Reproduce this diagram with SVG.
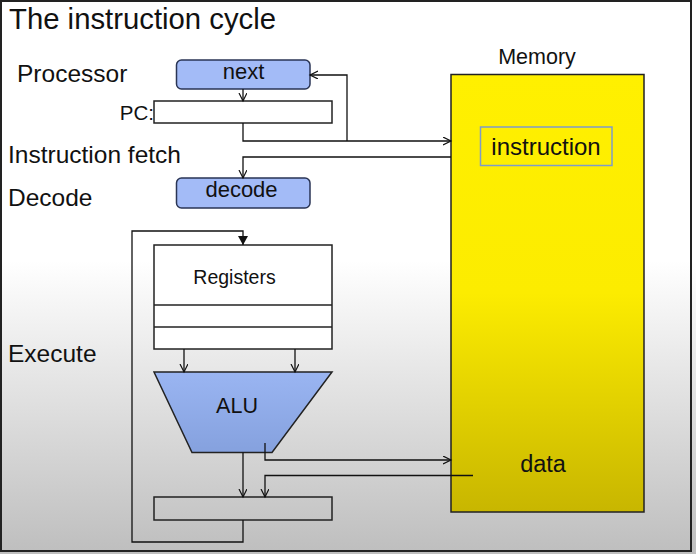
<svg xmlns="http://www.w3.org/2000/svg" width="696" height="554" viewBox="0 0 696 554">
<defs>
<linearGradient id="bg" x1="0" y1="0" x2="0" y2="1">
<stop offset="0" stop-color="#ffffff"/><stop offset="0.47" stop-color="#ffffff"/><stop offset="1" stop-color="#bebebe"/>
</linearGradient>
<linearGradient id="yel" x1="0" y1="0" x2="0" y2="1">
<stop offset="0" stop-color="#fff000"/><stop offset="0.5" stop-color="#fcec00"/><stop offset="1" stop-color="#c8b600"/>
</linearGradient>
<linearGradient id="alu" x1="0" y1="0" x2="0" y2="1">
<stop offset="0" stop-color="#9ab5f2"/><stop offset="1" stop-color="#85a1de"/>
</linearGradient>
<marker id="open" markerWidth="10" markerHeight="10" refX="8" refY="4" orient="auto" markerUnits="userSpaceOnUse">
<path d="M0,0 L8,4 L0,8" fill="none" stroke="#111" stroke-width="1.2"/>
</marker>
<marker id="solid" markerWidth="12" markerHeight="12" refX="9" refY="5" orient="auto" markerUnits="userSpaceOnUse">
<path d="M0,0 L9,5 L0,10 Z" fill="#111"/>
</marker>
</defs>
<style>
text{font-family:"Liberation Sans",Arial,sans-serif;fill:#111}
.lbl{font-size:24.5px}
.box{fill:#ffffff;stroke:#222;stroke-width:1.5}
.rbox{fill:#a3bbf7;stroke:#2a3555;stroke-width:1.5}
.c{fill:none;stroke:#111;stroke-width:1.3}
.a{marker-end:url(#open)}
</style>
<rect x="0" y="0" width="696" height="554" fill="url(#bg)"/>
<rect x="1" y="1" width="690" height="550" fill="none" stroke="#222" stroke-width="2"/>
<text x="9" y="29" font-size="29.3">The instruction cycle</text>
<text class="lbl" x="17" y="82">Processor</text>
<text class="lbl" x="8" y="163">Instruction fetch</text>
<text class="lbl" x="8" y="206">Decode</text>
<text class="lbl" x="8" y="362">Execute</text>

<g id="memory">
<rect x="451" y="74.5" width="193" height="437.5" fill="url(#yel)" stroke="#222" stroke-width="1.5"/>
<text x="537" y="64" font-size="21.5" text-anchor="middle">Memory</text>
<text x="543" y="472" font-size="23.5" text-anchor="middle">data</text>
</g>
<g id="instruction">
<rect x="480.5" y="127" width="131.5" height="38.5" fill="none" stroke="#7f9cc8" stroke-width="1.5"/>
<text x="546" y="154.5" font-size="24" text-anchor="middle">instruction</text>
</g>
<g id="next">
<rect class="rbox" x="176.5" y="60" width="133.5" height="29" rx="5"/>
<text x="243.5" y="78.5" font-size="22" text-anchor="middle">next</text>
</g>
<g id="pc">
<rect class="box" x="154" y="101" width="178" height="22"/>
<text x="154" y="119.5" font-size="20.5" text-anchor="end">PC:</text>
</g>
<g id="decode">
<rect class="rbox" x="176.5" y="178" width="133.5" height="30" rx="5"/>
<text x="241.5" y="196.5" font-size="22" text-anchor="middle">decode</text>
</g>
<g id="registers">
<rect class="box" x="154" y="245" width="178" height="104"/>
<line x1="154" y1="305" x2="332" y2="305" stroke="#222" stroke-width="1.5"/>
<line x1="154" y1="327" x2="332" y2="327" stroke="#222" stroke-width="1.5"/>
<text x="234.5" y="283.5" font-size="19.5" text-anchor="middle">Registers</text>
</g>
<g id="alu">
<path d="M154,372 L332,372 L272,452.5 L192,452.5 Z" fill="url(#alu)" stroke="#222" stroke-width="1.5"/>
<text x="237" y="412.5" font-size="21.5" text-anchor="middle">ALU</text>
</g>
<g id="result">
<rect x="154" y="497" width="178" height="23" fill="none" stroke="#222" stroke-width="1.5"/>
</g>

<g id="connectors">
<path class="c a" d="M243,89 V101"/>
<path class="c a" d="M243,123 V141 H451"/>
<path class="c a" d="M347,141 V75 H310"/>
<path class="c a" d="M451,157 H243 V178"/>
<path class="c" d="M243,520 V542 H132 V231 H243 V245" marker-end="url(#solid)"/>
<path class="c a" d="M184,349 V372"/>
<path class="c a" d="M295,349 V372"/>
<path class="c a" d="M243,452.5 V497"/>
<path class="c a" d="M265,443 V460 H451"/>
<path class="c a" d="M473,475.5 H265 V497"/>
</g>
</svg>
